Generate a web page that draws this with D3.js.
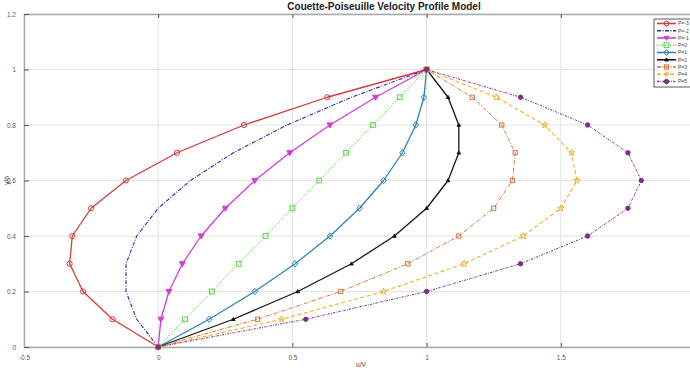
<!DOCTYPE html>
<html>
<head>
<meta charset="utf-8">
<script src="https://cdn.jsdelivr.net/npm/d3@7"></script>
<style>
  html, body { margin: 0; padding: 0; background: #fff; }
  svg { display: block; font-family: "Liberation Sans", Arial, sans-serif; }
</style>
</head>
<body>
<svg id="chart" width="690" height="372"></svg>
<script>
// ---- data ----
const yValues = [0, 0.1, 0.2, 0.3, 0.4, 0.5, 0.6, 0.7, 0.8, 0.9, 1];
const seriesNames = ["P=-3", "P=-2", "P=-1", "P=0", "P=1", "P=2", "P=3", "P=4", "P=5"];
const uPm3 = [0, -0.17, -0.28, -0.33, -0.32, -0.25, -0.12, 0.07, 0.32, 0.63, 1];
const uPm2 = [0, -0.08, -0.12, -0.12, -0.08, 0, 0.12, 0.28, 0.48, 0.72, 1];
const uPm1 = [0, 0.01, 0.04, 0.09, 0.16, 0.25, 0.36, 0.49, 0.64, 0.81, 1];
const uP0 = [0, 0.1, 0.2, 0.3, 0.4, 0.5, 0.6, 0.7, 0.8, 0.9, 1];
const uP1 = [0, 0.19, 0.36, 0.51, 0.64, 0.75, 0.84, 0.91, 0.96, 0.99, 1];
const uP2 = [0, 0.28, 0.52, 0.72, 0.88, 1.0, 1.08, 1.12, 1.12, 1.08, 1];
const uP3 = [0, 0.37, 0.68, 0.93, 1.12, 1.25, 1.32, 1.33, 1.28, 1.17, 1];
const uP4 = [0, 0.46, 0.84, 1.14, 1.36, 1.5, 1.56, 1.54, 1.44, 1.26, 1];
const uP5 = [0, 0.55, 1.0, 1.35, 1.6, 1.75, 1.8, 1.75, 1.6, 1.35, 1];
const xTicks = [-0.5, 0, 0.5, 1, 1.5];
const xTickLabels = ["-0.5", "0", "0.5", "1", "1.5"];
const yTicks = [0, 0.2, 0.4, 0.6, 0.8, 1, 1.2];
const yTickLabels = ["0", "0.2", "0.4", "0.6", "0.8", "1", "1.2"];

const allU = [uPm3, uPm2, uPm1, uP0, uP1, uP2, uP3, uP4, uP5];
const styles = [
  {color: "#d23c3c", dash: null, width: 1.3, marker: "circle", fill: false, size: 2.6},
  {color: "#2c2c9c", dash: "4,1.5,1,1.5", width: 1.1, marker: null},
  {color: "#d43cd4", dash: null, width: 1.3, marker: "tridown", fill: true, size: 3.0},
  {color: "#5cd848", dash: "1,1.6", width: 1.1, marker: "square", fill: false, size: 2.4},
  {color: "#2f82b6", dash: null, width: 1.3, marker: "diamond", fill: false, size: 2.7},
  {color: "#151515", dash: null, width: 1.3, marker: "triangle", fill: true, size: 1.8},
  {color: "#d5773e", dash: "4,1.5,1,1.5", width: 1.0, marker: "square", fill: false, size: 2.1},
  {color: "#ecb42a", dash: "4,2.5", width: 1.1, marker: "star", fill: false, size: 3.4},
  {color: "#7a3088", dash: "2.2,1.2,0.8,1.2", width: 1.0, marker: "circle", fill: true, size: 2.2}
];

const svg = d3.select("#chart");
const x = d3.scaleLinear().domain([-0.5, 2]).range([24, 695]);
const y = d3.scaleLinear().domain([0, 1.2]).range([347, 14]);

// grid
const g = svg.append("g");
g.selectAll(".gx").data(xTicks).join("line")
  .attr("x1", d => x(d)).attr("x2", d => x(d))
  .attr("y1", y(0)).attr("y2", y(1.2))
  .attr("stroke", "#e4e4e4").attr("stroke-width", 1);
g.selectAll(".gy").data(yTicks).join("line")
  .attr("x1", x(-0.5)).attr("x2", x(2))
  .attr("y1", d => y(d)).attr("y2", d => y(d))
  .attr("stroke", "#e4e4e4").attr("stroke-width", 1);

// axes via d3 axis
const xAxis = d3.axisBottom(x).tickValues(xTicks).tickFormat((d, i) => xTickLabels[i]).tickSizeInner(-4).tickSizeOuter(0).tickPadding(8);
const yAxis = d3.axisLeft(y).tickValues(yTicks).tickFormat((d, i) => yTickLabels[i]).tickSizeInner(-5).tickSizeOuter(0).tickPadding(8);
const xTop = d3.axisTop(x).tickValues(xTicks).tickFormat("").tickSizeInner(-4).tickSizeOuter(0);

function styleAxis(sel) {
  sel.select(".domain").attr("stroke", "#a8a8a8").attr("stroke-width", 1.4);
  sel.selectAll(".tick line").attr("stroke", "#555").attr("stroke-width", 1);
  sel.selectAll(".tick text").attr("fill", "#555").attr("font-size", 6.5);
}
svg.append("g").attr("transform", `translate(0,${y(0)})`).call(xAxis).call(styleAxis);
svg.append("g").attr("transform", `translate(0,${y(1.2)})`).call(xTop).call(styleAxis);
svg.append("g").attr("transform", `translate(${x(-0.5)},0)`).call(yAxis).call(styleAxis);

// titles
svg.append("text").attr("x", 384).attr("y", 10).attr("text-anchor", "middle")
  .attr("font-size", 10).attr("font-weight", "bold").attr("fill", "#222")
  .text("Couette-Poiseuille Velocity Profile Model");
svg.append("text").attr("x", 361).attr("y", 367).attr("text-anchor", "middle")
  .attr("font-size", 6.5).attr("fill", "#444").text("u/V");
svg.append("text").attr("transform", `translate(9,${y(0.6)}) rotate(-90)`).attr("text-anchor", "middle")
  .attr("font-size", 6.5).attr("fill", "#444").text("y/h");

// marker drawing
function drawMarker(sel, st, cx, cy) {
  const s = st.size;
  const fill = st.fill ? st.color : "none";
  let el;
  if (st.marker === "circle") {
    el = sel.append("circle").attr("cx", cx).attr("cy", cy).attr("r", s);
  } else if (st.marker === "square") {
    el = sel.append("rect").attr("x", cx - s).attr("y", cy - s).attr("width", 2 * s).attr("height", 2 * s);
  } else if (st.marker === "diamond") {
    el = sel.append("path").attr("d", `M${cx},${cy - s * 1.2}L${cx + s},${cy}L${cx},${cy + s * 1.2}L${cx - s},${cy}Z`);
  } else if (st.marker === "tridown") {
    el = sel.append("path").attr("d", `M${cx - s},${cy - s * 0.7}L${cx + s},${cy - s * 0.7}L${cx},${cy + s}Z`);
  } else if (st.marker === "triangle") {
    el = sel.append("path").attr("d", `M${cx},${cy - s}L${cx + s},${cy + s * 0.7}L${cx - s},${cy + s * 0.7}Z`);
  } else if (st.marker === "star") {
    const pts = [];
    for (let k = 0; k < 10; k++) {
      const a = -Math.PI / 2 + k * Math.PI / 5;
      const r = k % 2 === 0 ? s : s * 0.42;
      pts.push([cx + r * Math.cos(a), cy + r * Math.sin(a)]);
    }
    el = sel.append("path").attr("d", "M" + pts.map(p => p.join(",")).join("L") + "Z");
  }
  if (el) el.attr("fill", fill).attr("stroke", st.color).attr("stroke-width", 1);
}

// series
const line = d3.line().x(d => x(d[0])).y(d => y(d[1]));
allU.forEach((u, i) => {
  const st = styles[i];
  const pts = u.map((v, j) => [v, yValues[j]]);
  const sg = svg.append("g");
  sg.append("path").attr("d", line(pts)).attr("fill", "none")
    .attr("stroke", st.color).attr("stroke-width", st.width)
    .attr("stroke-dasharray", st.dash).attr("stroke-linejoin", "round");
  if (st.marker) pts.forEach(p => drawMarker(sg, st, x(p[0]), y(p[1])));
});

// legend
const lg = svg.append("g");
lg.append("rect").attr("x", 654).attr("y", 19).attr("width", 40).attr("height", 68)
  .attr("fill", "#fff").attr("stroke", "#333").attr("stroke-width", 0.8);
seriesNames.forEach((name, i) => {
  const st = styles[i];
  const ly = 23.5 + i * 7.25;
  lg.append("line").attr("x1", 657).attr("x2", 676).attr("y1", ly).attr("y2", ly)
    .attr("stroke", st.color).attr("stroke-width", st.width + 0.3).attr("stroke-dasharray", st.dash);
  if (st.marker) drawMarker(lg, Object.assign({}, st, {size: Math.min(st.size, 2.4)}), 666.5, ly);
  lg.append("text").attr("x", 678).attr("y", ly + 1.8).attr("font-size", 5).attr("fill", "#444").text(name);
});
</script>
</body>
</html>
